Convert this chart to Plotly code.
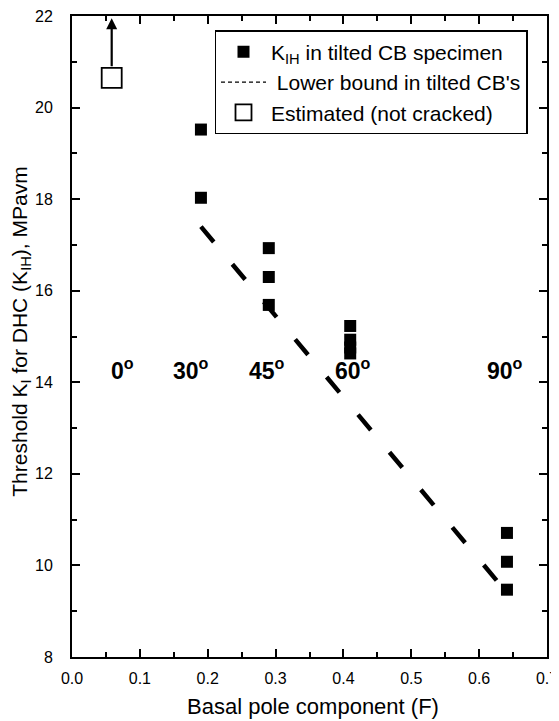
import plotly.graph_objects as go

# Data
f_meas = [0.19, 0.19, 0.29, 0.29, 0.29, 0.41, 0.41, 0.41, 0.41, 0.641, 0.641, 0.641]
k_meas = [19.52, 18.03, 16.93, 16.30, 15.69, 15.23, 14.93, 14.76, 14.63, 10.71, 10.08, 9.47]
f_bound = [0.19, 0.631]
k_bound = [17.40, 9.58]
f_est = [0.0585]
k_est = [20.65]
angle_labels = ["0", "30", "45", "60", "90"]
angle_x = [0.074, 0.176, 0.287, 0.414, 0.638]
angle_y = [14.3, 14.3, 14.3, 14.3, 14.3]

FONT = "Liberation Sans, Arial, sans-serif"

fig = go.Figure()
fig.add_trace(go.Scatter(
    x=f_meas, y=k_meas, mode="markers",
    marker=dict(symbol="square", size=12, color="black"),
    name="K<sub>IH</sub> in tilted CB specimen"))
fig.add_trace(go.Scatter(
    x=f_bound, y=k_bound, mode="lines",
    line=dict(color="black", width=4.5, dash="20px,29px"),
    showlegend=False))
fig.add_trace(go.Scatter(
    x=[None], y=[None], mode="lines",
    line=dict(color="black", width=1.2, dash="4px,3px"),
    name=" Lower bound in tilted CB's"))
fig.add_trace(go.Scatter(
    x=f_est, y=k_est, mode="markers",
    marker=dict(symbol="square-open", size=20, color="black", line=dict(width=1.8)),
    name="Estimated (not cracked)"))

# arrow from estimated point up
fig.add_annotation(x=f_est[0], y=21.95, ax=f_est[0], ay=k_est[0] + 0.22,
                   xref="x", yref="y", axref="x", ayref="y",
                   showarrow=True, arrowhead=2, arrowsize=1.0, arrowwidth=2.2,
                   arrowcolor="black", text="")

for lab, xx, yy in zip(angle_labels, angle_x, angle_y):
    fig.add_annotation(x=xx, y=yy, xref="x", yref="y", showarrow=False,
                       text="<b>" + lab + "<sup>o</sup></b>",
                       font=dict(family=FONT, size=23, color="black"))

# axis titles
fig.add_annotation(x=0.507, y=-0.077, xref="paper", yref="paper", showarrow=False,
                   xanchor="center", yanchor="middle",
                   text="Basal pole component (F)",
                   font=dict(family=FONT, size=22, color="black"))
fig.add_annotation(x=-0.108, y=0.507, xref="paper", yref="paper", showarrow=False,
                   xanchor="center", yanchor="middle", textangle=-90,
                   text="Threshold K<sub>I</sub> for DHC (K<sub>IH</sub>), MPavm",
                   font=dict(family=FONT, size=21, color="black"))

axis_common = dict(showline=True, linecolor="black", linewidth=2, mirror="allticks",
                   ticks="inside", tickcolor="black", tickwidth=1.5, ticklen=8,
                   showgrid=False, zeroline=False, automargin=False,
                   ticklabeloverflow="allow",
                   tickfont=dict(family=FONT, size=16, color="black"),
                   minor=dict(ticks="inside", ticklen=5, tickwidth=1.5, tickcolor="black"))

fig.update_xaxes(range=[0.0, 0.7], dtick=0.1, tick0=0, tickformat=".1f",
                 minor_dtick=0.05, ticklabelstandoff=6, **axis_common)
fig.update_yaxes(range=[8, 22], dtick=2, tick0=8, minor_dtick=1, ticklabelstandoff=14,
                 **axis_common)

fig.update_layout(
    width=551, height=713,
    margin=dict(l=64, r=12, t=8, b=64),
    plot_bgcolor="white", paper_bgcolor="white",
    font=dict(family=FONT, color="black"),
    legend=dict(x=0.30, y=0.978, xanchor="left", yanchor="top",
                bgcolor="white", bordercolor="black", borderwidth=1.5,
                font=dict(family=FONT, size=21, color="black"),
                itemwidth=45, tracegroupgap=0),
)

fig.write_html("out.html")
